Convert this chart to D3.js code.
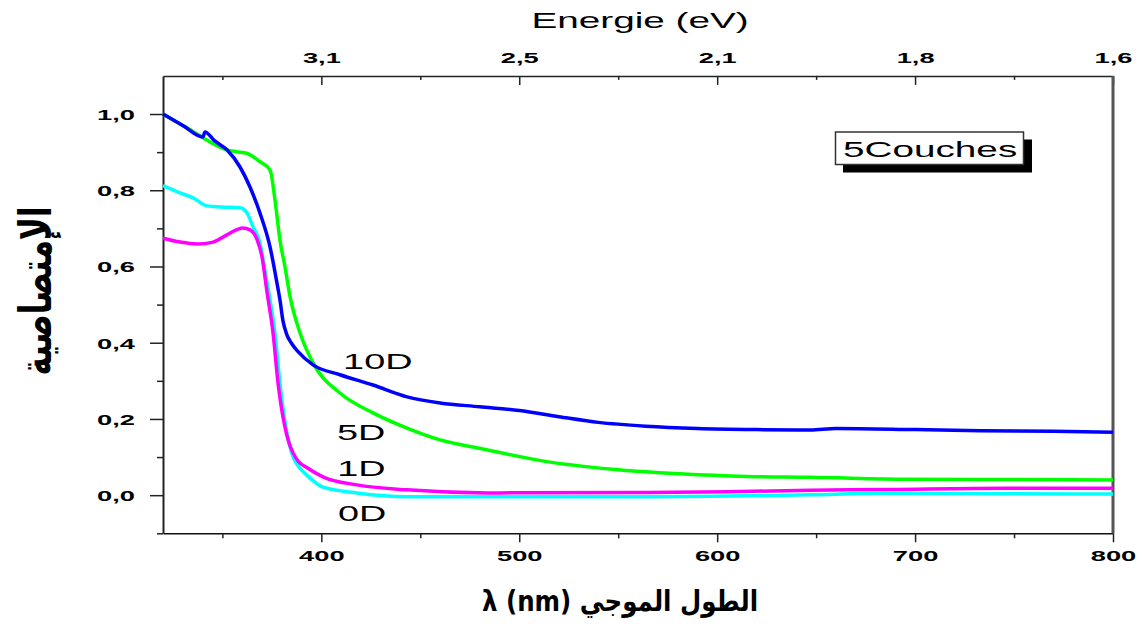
<!DOCTYPE html>
<html>
<head>
<meta charset="utf-8">
<script src="https://cdn.jsdelivr.net/npm/d3@7"></script>
<style>
  body { margin: 0; background: #fff; }
  svg { display: block; }
  .tick text { font-family: "Liberation Sans", Arial, sans-serif; font-weight: bold; font-size: 15.5px; fill: #000; }
  .lbl { font-family: "Liberation Sans", Arial, sans-serif; fill: #000; }
  .ar { font-family: "DejaVu Sans", sans-serif; font-weight: bold; fill: #000; }
</style>
</head>
<body>
<svg id="canvas" width="1144" height="627"></svg>
<script>
// DATA (wavelength in nm, absorbance)
const wl10 = [320, 330, 340.2, 341.2, 346, 352.3, 358.9, 364, 369, 374.1, 377.6, 379.1, 380.6, 382.5, 385, 388, 395.8, 409.4, 426.1, 443.3, 460, 480, 500, 520, 540, 564, 590, 620, 647, 660, 700, 733, 770, 800];
const abs10 = [1.0, 0.97, 0.94, 0.953, 0.93, 0.906, 0.861, 0.808, 0.74, 0.651, 0.556, 0.512, 0.458, 0.422, 0.398, 0.378, 0.342, 0.316, 0.289, 0.258, 0.242, 0.232, 0.222, 0.206, 0.191, 0.181, 0.175, 0.172, 0.171, 0.175, 0.172, 0.169, 0.168, 0.165];

const wl5 = [320, 330, 335, 343.7, 352.2, 357.2, 362.3, 369, 374.1, 376.6, 379.1, 381.6, 384.2, 389.2, 395.8, 409.4, 426.1, 443.3, 460, 480, 514, 547, 581, 615, 647, 696, 750, 800];
const abs5 = [1.0, 0.97, 0.955, 0.927, 0.906, 0.901, 0.897, 0.875, 0.853, 0.774, 0.669, 0.6, 0.521, 0.426, 0.347, 0.268, 0.216, 0.176, 0.145, 0.123, 0.088, 0.068, 0.056, 0.049, 0.047, 0.042, 0.041, 0.04];

const wl1 = [320, 328.6, 337.2, 345.3, 352.3, 360.4, 364, 367.5, 370, 372.6, 375.6, 378.1, 381.6, 383.5, 385.7, 388.5, 392.8, 400.8, 418, 443.3, 484, 564, 606, 647, 687, 746, 800];
const abs1 = [0.674, 0.664, 0.659, 0.664, 0.683, 0.701, 0.696, 0.671, 0.626, 0.531, 0.426, 0.295, 0.179, 0.14, 0.111, 0.088, 0.072, 0.048, 0.027, 0.014, 0.006, 0.007, 0.009, 0.013, 0.015, 0.018, 0.018];

const wl0 = [320, 328.6, 335.2, 342.2, 348.8, 358.9, 362.4, 365.5, 369, 371.5, 374.1, 376.6, 379.1, 382.2, 384, 386, 389, 392.8, 400.8, 418, 443.3, 480, 564, 647, 682, 750, 800];
const abs0 = [0.812, 0.793, 0.78, 0.759, 0.756, 0.754, 0.741, 0.704, 0.662, 0.59, 0.512, 0.425, 0.294, 0.175, 0.13, 0.097, 0.072, 0.052, 0.021, 0.006, -0.004, -0.004, -0.004, 0.001, 0.005, 0.004, 0.003];

const seriesNames = ["0D", "1D", "5D", "10D"];
const seriesColors = ["#00ffff", "#ff00ff", "#00ff00", "#0000ff"];

// TICKS
const xMajor = [400, 500, 600, 700, 800];
const xMinor = [350, 450, 550, 650, 750];
const xLabels = ["400", "500", "600", "700", "800"];
const energyLabels = ["3,1", "2,5", "2,1", "1,8", "1,6"];
const yMajor = [0, 0.2, 0.4, 0.6, 0.8, 1.0];
const yMinor = [-0.1, 0.1, 0.3, 0.5, 0.7, 0.9];
const yLabels = ["0,0", "0,2", "0,4", "0,6", "0,8", "1,0"];

// the original picture is stretched horizontally
const SX = 1.76;

const svg = d3.select("#canvas");

// SCALES
const x = d3.scaleLinear().domain([320, 800]).range([163, 1113]);
const y = d3.scaleLinear().domain([-0.1, 1.1]).range([533.3, 75.9]);

// AXES
function styleAxis(g, color, width) {
  g.select(".domain").attr("stroke", color).attr("stroke-width", width);
  g.selectAll(".tick line").attr("stroke", "#222").attr("stroke-width", 1.5);
}

// bottom
const bottomAxis = svg.append("g").attr("transform", `translate(0,${y(-0.1)})`)
  .call(d3.axisBottom(x).tickValues(xMajor).tickSize(9).tickSizeOuter(0)
    .tickFormat((d, i) => xLabels[i]));
styleAxis(bottomAxis, "#111", 1.5);
bottomAxis.selectAll("text").attr("y", 28).attr("dy", 0).attr("transform", `scale(${SX},1)`);

svg.append("g").attr("transform", `translate(0,${y(-0.1)})`)
  .call(d3.axisBottom(x).tickValues(xMinor).tickSize(5).tickFormat(""))
  .call(g => g.select(".domain").remove())
  .call(g => g.selectAll(".tick line").attr("stroke", "#222").attr("stroke-width", 1.5));

// top (energy)
const topAxis = svg.append("g").attr("transform", `translate(0,${y(1.1)})`)
  .call(d3.axisTop(x).tickValues(xMajor).tickSize(-9).tickSizeOuter(0)
    .tickFormat((d, i) => energyLabels[i]));
styleAxis(topAxis, "#222", 1.5);
topAxis.selectAll("text").attr("y", -13).attr("dy", 0).attr("transform", `scale(${SX},1)`);

svg.append("g").attr("transform", `translate(0,${y(1.1)})`)
  .call(d3.axisTop(x).tickValues(xMinor).tickSize(-4).tickFormat(""))
  .call(g => g.select(".domain").remove())
  .call(g => g.selectAll(".tick line").attr("stroke", "#222").attr("stroke-width", 1.5));

// left
const leftAxis = svg.append("g").attr("transform", `translate(${x(320)},0)`)
  .call(d3.axisLeft(y).tickValues(yMajor).tickSize(13).tickSizeOuter(0)
    .tickFormat((d, i) => yLabels[i]));
styleAxis(leftAxis, "#222", 2);
leftAxis.selectAll("text").attr("x", -28 / SX).attr("y", 5.5).attr("dy", 0).attr("transform", `scale(${SX},1)`);

svg.append("g").attr("transform", `translate(${x(320)},0)`)
  .call(d3.axisLeft(y).tickValues(yMinor).tickSize(6).tickFormat(""))
  .call(g => g.select(".domain").remove())
  .call(g => g.selectAll(".tick line").attr("stroke", "#222").attr("stroke-width", 1.5));

// right border
svg.append("line")
  .attr("x1", x(800)).attr("x2", x(800))
  .attr("y1", y(1.1)).attr("y2", y(-0.1))
  .attr("stroke", "#555").attr("stroke-width", 3);

// CURVES
const series = [
  { wl: wl0, a: abs0 },
  { wl: wl1, a: abs1 },
  { wl: wl5, a: abs5 },
  { wl: wl10, a: abs10 }
].map((s, i) => ({ name: seriesNames[i], color: seriesColors[i], points: s.wl.map((w, j) => [w, s.a[j]]) }));

const line = d3.line()
  .x(d => x(d[0]))
  .y(d => y(d[1]))
  .curve(d3.curveMonotoneX);

svg.selectAll("path.curve")
  .data(series)
  .join("path")
  .attr("class", "curve")
  .attr("d", d => line(d.points))
  .attr("fill", "none")
  .attr("stroke", d => d.color)
  .attr("stroke-width", 3.5)
  .attr("stroke-linejoin", "round");

// CURVE LABELS (anchored in data units)
const labelAt = { "0D": [408.4, -0.068], "1D": [408, 0.05], "5D": [407.9, 0.145], "10D": [411, 0.331] };
svg.selectAll("text.curveLabel")
  .data(series)
  .join("text")
  .attr("class", "lbl curveLabel")
  .attr("transform", d => `translate(${x(labelAt[d.name][0])},${y(labelAt[d.name][1])}) scale(${SX},1)`)
  .style("font-size", "21.5px")
  .text(d => d.name);

// LEGEND BOX
svg.append("rect")
  .attr("x", 843).attr("y", 139.5).attr("width", 189).attr("height", 33)
  .attr("fill", "#000");
svg.append("rect")
  .attr("x", 835.5).attr("y", 132).attr("width", 188).attr("height", 32.5)
  .attr("fill", "#fff").attr("stroke", "#333").attr("stroke-width", 1.5);
svg.append("text")
  .attr("class", "lbl")
  .attr("transform", `translate(843,156.5) scale(${SX},1)`)
  .style("font-size", "22px")
  .text("5Couches");

// TITLES
svg.append("text")
  .attr("class", "lbl")
  .attr("text-anchor", "middle")
  .attr("transform", `translate(640,28) scale(${SX},1)`)
  .style("font-size", "22px")
  .text("Energie (eV)");

svg.append("text")
  .attr("class", "ar")
  .attr("text-anchor", "middle")
  .attr("transform", `translate(620,611) scale(1.02,1.2)`)
  .style("font-size", "24px")
  .text("λ (nm) الطول الموجي");

svg.append("text")
  .attr("class", "ar")
  .attr("text-anchor", "middle")
  .attr("transform", `translate(51,291) scale(1.45,1) rotate(-90)`)
  .style("font-size", "31px")
  .text("الإمتصاصية");
</script>
</body>
</html>
